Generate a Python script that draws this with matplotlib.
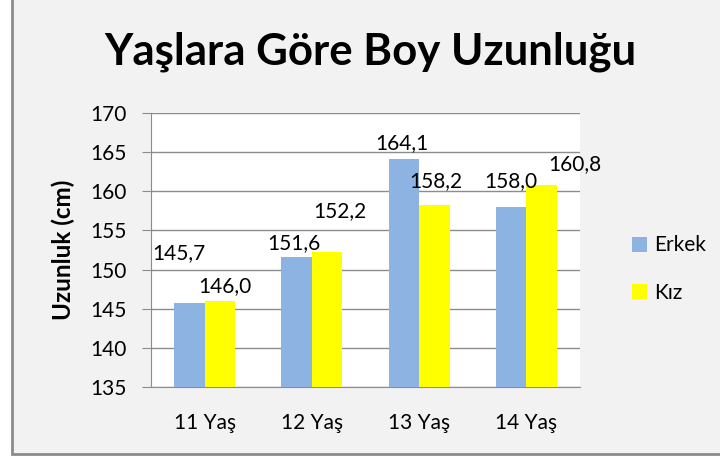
import matplotlib.pyplot as plt
import matplotlib.patches as mpatches
import numpy as np

plt.rcParams['font.family'] = ['Lato', 'DejaVu Sans']

categories = ["11 Yaş", "12 Yaş", "13 Yaş", "14 Yaş"]
erkek = [145.7, 151.6, 164.1, 158.0]
kiz = [146.0, 152.2, 158.2, 160.8]

# label offsets (points) from top of each bar, like the original layout
erkek_off = [(-7.5, 31.5), (-1.8, 5.4), (-1.4, 7.6), (0, 14)]
kiz_off = [(3.6, 6.1), (9.4, 25.2), (0.7, 13.3), (23.8, 10.4)]

fig = plt.figure(figsize=(7.2, 4.57), dpi=100, facecolor="white")
fig.patches.append(mpatches.Rectangle((11.5 / 720, 3 / 457), 1.0, 1.0,
                                      transform=fig.transFigure, facecolor="#f2f2f2",
                                      edgecolor="#8c8c8c", linewidth=2, zorder=-10))

ax = fig.add_axes([151 / 720, 1 - 387 / 457, 429 / 720, 274 / 457])
ax.set_facecolor("white")

x = np.arange(len(categories))
w = 0.285
b1 = ax.bar(x - w / 2, np.array(erkek) - 135, w, bottom=135, color="#8db3e2", zorder=3)
b2 = ax.bar(x + w / 2, np.array(kiz) - 135, w, bottom=135, color="#ffff00", zorder=3)

for xi, v, off in zip(x - w / 2, erkek, erkek_off):
    ax.annotate(("%.1f" % v).replace(".", ","), (xi, v), xytext=off,
                textcoords="offset points", ha="center", va="baseline", fontsize=15)
for xi, v, off in zip(x + w / 2, kiz, kiz_off):
    ax.annotate(("%.1f" % v).replace(".", ","), (xi, v), xytext=off,
                textcoords="offset points", ha="center", va="baseline", fontsize=15)

ax.set_xlim(-0.5, 3.5)
ax.set_ylim(135, 170)
ax.set_yticks(range(135, 171, 5))
ax.set_xticks(x)
ax.set_xticklabels(categories)
ax.grid(axis="y", color="#8c8c8c", linewidth=1, zorder=0)
for s in ["top", "right"]:
    ax.spines[s].set_visible(False)
ax.spines["left"].set_color("#8c8c8c")
ax.spines["bottom"].set_color("#8c8c8c")
ax.tick_params(axis="y", length=6.5, color="#8c8c8c", labelsize=15, pad=11)
ax.tick_params(axis="x", length=0, labelsize=15, pad=19)

fig.text(63 / 720, 1 - 250 / 457, "Uzunluk (cm)", rotation=90, ha="center", va="center",
         fontsize=17.5, fontweight="bold")

fig.text(370 / 720, 1 - 52 / 457, "Yaşlara Göre Boy Uzunluğu", ha="center", va="center",
         fontsize=31.5, fontweight="bold")

leg = fig.legend([b1, b2], ["Erkek", "Kız"], loc="center left",
                 bbox_to_anchor=(622 / 720, 1 - 269 / 457), frameon=False, borderpad=0,
                 fontsize=15, handlelength=0.72, handleheight=0.72, labelspacing=1.3,
                 handletextpad=0.34)

plt.savefig("out.png", dpi=100)
